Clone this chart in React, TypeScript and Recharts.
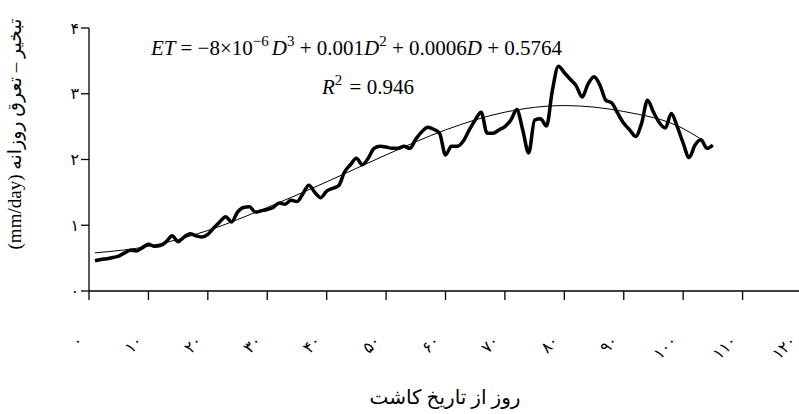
import React from 'react';
import { LineChart, Line, XAxis, YAxis, Customized } from 'recharts';

const FA_DIGITS = ['۰', '۱', '۲', '۳', '۴', '۵', '۶', '۷', '۸', '۹'];
const toFa = (n: number) => String(n).replace(/\d/g, (d) => FA_DIGITS[Number(d)]);

const X_TICKS = [0, 10, 20, 30, 40, 50, 60, 70, 80, 90, 100, 110, 120];
const Y_TICKS = [0, 1, 2, 3, 4];

// daily ET (mm/day), day 1 .. 105
const ET_DAILY = [
  0.46, 0.48, 0.49, 0.51, 0.53, 0.58, 0.62, 0.61, 0.66, 0.71,
  0.68, 0.69, 0.75, 0.84, 0.75, 0.82, 0.87, 0.84, 0.82, 0.86,
  0.96, 1.05, 1.13, 1.05, 1.2, 1.27, 1.28, 1.2, 1.22, 1.24,
  1.27, 1.34, 1.32, 1.38, 1.36, 1.48, 1.61, 1.5, 1.42, 1.52,
  1.56, 1.6, 1.81, 1.92, 2.02, 1.92, 2.02, 2.17, 2.2, 2.19,
  2.17, 2.17, 2.2, 2.17, 2.31, 2.42, 2.49, 2.46, 2.4, 2.07,
  2.2, 2.2, 2.28, 2.45, 2.6, 2.72, 2.4, 2.4, 2.45, 2.5,
  2.6, 2.76, 2.45, 2.1, 2.6, 2.62, 2.51, 3.06, 3.42, 3.32,
  3.22, 3.12, 2.95, 3.15, 3.26, 3.13, 2.9, 2.86, 2.7, 2.55,
  2.45, 2.35, 2.55, 2.9, 2.72, 2.56, 2.48, 2.7, 2.5, 2.25,
  2.03, 2.22, 2.3, 2.17, 2.22,
];

// polynomial trend
const TREND_DAYS = [1, 10, 20, 30, 40, 50, 60, 70, 80, 90, 100, 103];
const TREND_ET = [0.58, 0.68, 0.92, 1.27, 1.66, 2.07, 2.45, 2.72, 2.82, 2.73, 2.47, 2.31];

const dailyData = ET_DAILY.map((et, i) => ({ day: i + 1, et }));
const trendData = TREND_DAYS.map((day, i) => ({ day, et: TREND_ET[i] }));

const SERIF = "'Liberation Serif', 'Times New Roman', 'DejaVu Sans', serif";

const XTick = ({ x, y, payload }: any) => {
  const ax = x - 5;
  const ay = y + 40;
  return (
    <text
      x={ax}
      y={ay}
      textAnchor="end"
      fill="#000"
      style={{ fontFamily: SERIF, fontSize: 16 }}
      transform={`rotate(-45 ${ax} ${ay})`}
    >
      {toFa(payload.value)}
    </text>
  );
};

const Sup = ({ children }: any) => (
  <tspan dy={-9} style={{ fontSize: 15 }}>
    {children}
  </tspan>
);

const Annotations = () => (
  <g fill="#000" style={{ fontFamily: SERIF }}>
    <text y={55} style={{ fontSize: 21 }}>
      <tspan x={151} fontStyle="italic">ET</tspan>
      <tspan dx={5}>= −8×10</tspan>
      <Sup>−6</Sup>
      <tspan dy={9} dx={3} fontStyle="italic">D</tspan>
      <Sup>3</Sup>
      <tspan dy={9}> + 0.001</tspan>
      <tspan fontStyle="italic">D</tspan>
      <Sup>2</Sup>
      <tspan dy={9}> + 0.0006</tspan>
      <tspan fontStyle="italic">D</tspan>
      <tspan> + 0.5764</tspan>
    </text>
    <text y={94} style={{ fontSize: 21 }}>
      <tspan x={322} fontStyle="italic">R</tspan>
      <Sup>2</Sup>
      <tspan dy={9} dx={2}> = 0.946</tspan>
    </text>
    <text
      x={14}
      y={134}
      textAnchor="middle"
      direction="rtl"
      transform="rotate(-90 14 134)"
      dominantBaseline="central"
      style={{ fontSize: 19 }}
    >
      تبخیر – تعرق روزانه (mm/day)
    </text>
    <text x={445} y={404} textAnchor="middle" direction="rtl" style={{ fontSize: 20 }}>
      روز از تاریخ کاشت
    </text>
  </g>
);

export default function App() {
  return (
    <div
      style={{
        position: 'absolute',
        left: 0,
        top: 0,
        width: 799,
        height: 414,
        overflow: 'hidden',
        background: '#fff',
      }}
    >
      <LineChart
        width={805}
        height={414}
        margin={{ top: 28, right: 3, left: 29, bottom: 43 }}
      >
        <XAxis
          type="number"
          dataKey="day"
          domain={[0, 120]}
          ticks={X_TICKS}
          interval={0}
          tickSize={9}
          height={80}
          stroke="#000"
          strokeWidth={1.3}
          tickLine={{ stroke: '#000' }}
          tick={<XTick />}
          allowDataOverflow
        />
        <YAxis
          type="number"
          domain={[0, 4]}
          ticks={Y_TICKS}
          interval={0}
          tickSize={8}
          width={60}
          stroke="#000"
          strokeWidth={1.3}
          tickFormatter={toFa}
          tick={{ fontSize: 16, fill: '#000', fontFamily: SERIF }}
        />
        <Line
          data={trendData}
          dataKey="et"
          type="monotone"
          stroke="#000"
          strokeWidth={1}
          dot={false}
          isAnimationActive={false}
        />
        <Line
          data={dailyData}
          dataKey="et"
          type="monotone"
          stroke="#000"
          strokeWidth={3.5}
          dot={false}
          isAnimationActive={false}
        />
        <Customized component={Annotations} />
      </LineChart>
    </div>
  );
}
